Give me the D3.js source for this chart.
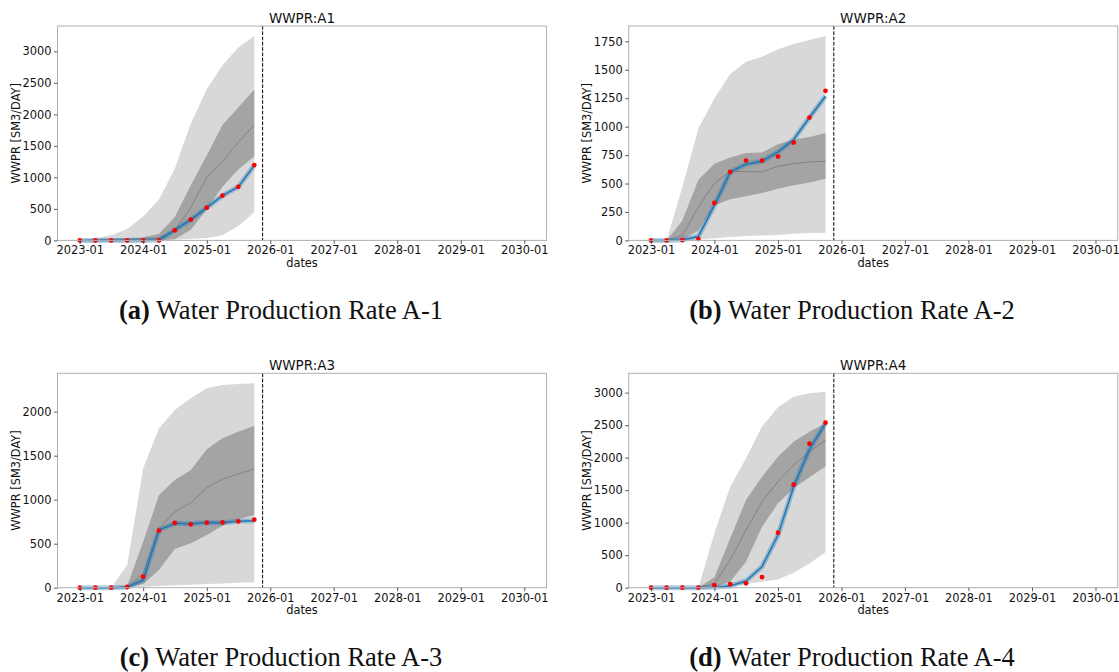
<!DOCTYPE html>
<html>
<head>
<meta charset="utf-8">
<script src="https://cdn.jsdelivr.net/npm/d3@7"></script>
<style>
  body { margin: 0; background: #fff; }
  svg { display: block; }
</style>
</head>
<body>
<div id="chart"></div>
<script>
// quarterly report dates
var dates = ["2023-01-01", "2023-04-01", "2023-07-01", "2023-10-01",
             "2024-01-01", "2024-04-01", "2024-07-01", "2024-10-01",
             "2025-01-01", "2025-04-01", "2025-07-01", "2025-10-01"];
var xRange = ["2023-01-01", "2030-01-01"];
var historyEnd = "2025-11-18";
var yearTicks = ["2023-01-01", "2024-01-01", "2025-01-01", "2026-01-01",
                 "2027-01-01", "2028-01-01", "2029-01-01", "2030-01-01"];

// A1
var a1Obs  = [0, 0, 0, 0, 0, 0, 160, 330, 520, 710, 850, 1195];
var a1Sim  = [0, 0, 0, 0, 0, 5, 165, 330, 520, 710, 850, 1190];
var a1Hi90 = [0, 40, 80, 180, 380, 650, 1140, 1855, 2400, 2780, 3060, 3245];
var a1Lo90 = [0, 0, 0, 0, 0, 0, 10, 25, 40, 80, 230, 445];
var a1Hi50 = [0, 20, 30, 40, 50, 105, 370, 875, 1350, 1830, 2110, 2395];
var a1Lo50 = [0, 0, 0, 0, 0, 0, 20, 170, 500, 850, 1125, 1335];
var a1Med  = [0, 5, 10, 15, 20, 40, 160, 520, 1000, 1250, 1560, 1830];

// A2
var a2Obs  = [0, 0, 3, 12, 329, 602, 702, 702, 737, 860, 1080, 1315];
var a2Sim  = [0, 0, 3, 35, 308, 602, 670, 696, 778, 887, 1080, 1268];
var a2Hi90 = [0, 0, 470, 984, 1248, 1462, 1571, 1615, 1680, 1726, 1762, 1797];
var a2Lo90 = [0, 0, 0, 9, 20, 29, 38, 44, 47, 59, 65, 68];
var a2Hi50 = [0, 0, 176, 534, 675, 728, 769, 772, 846, 887, 910, 945];
var a2Lo50 = [0, 0, 5, 88, 308, 361, 388, 417, 455, 484, 508, 543];
var a2Med  = [0, 0, 44, 294, 500, 608, 605, 602, 652, 675, 690, 696];

// A3
var a3Obs  = [0, 0, 0, 8, 125, 648, 735, 720, 739, 742, 754, 773];
var a3Sim  = [0, 0, 0, 4, 87, 655, 731, 727, 742, 739, 754, 761];
var a3Hi90 = [0, 0, 0, 258, 1356, 1811, 2019, 2152, 2265, 2303, 2314, 2322];
var a3Lo90 = [0, 0, 0, 0, 8, 19, 27, 34, 42, 49, 57, 61];
var a3Hi50 = [0, 0, 0, 19, 523, 1053, 1223, 1337, 1572, 1697, 1773, 1841];
var a3Lo50 = [0, 0, 0, 0, 42, 200, 439, 504, 598, 705, 777, 826];
var a3Med  = [0, 0, 0, 0, 163, 674, 864, 966, 1136, 1235, 1292, 1348];

// A4
var a4Obs  = [0, 0, 0, 0, 41, 56, 67, 164, 846, 1585, 2215, 2538];
var a4Sim  = [0, 0, 0, 0, 5, 26, 103, 323, 810, 1554, 2128, 2528];
var a4Hi90 = [0, 0, 0, 0, 836, 1554, 1990, 2477, 2774, 2938, 2990, 3015];
var a4Lo90 = [0, 0, 0, 0, 0, 26, 56, 92, 128, 231, 374, 544];
var a4Hi50 = [0, 0, 0, 0, 159, 759, 1349, 1708, 2015, 2246, 2400, 2528];
var a4Lo50 = [0, 0, 0, 0, 5, 92, 400, 938, 1297, 1528, 1697, 1862];
var a4Med  = [0, 0, 0, 0, 67, 426, 887, 1323, 1631, 1887, 2092, 2262];

var titles = ["WWPR:A1", "WWPR:A2", "WWPR:A3", "WWPR:A4"];
var captionTags = ["(a)", "(b)", "(c)", "(d)"];
var captionTexts = ["Water Production Rate A-1", "Water Production Rate A-2",
                    "Water Production Rate A-3", "Water Production Rate A-4"];
var yMaxes = [3402, 1885, 2436, 3297];
var yStepTicks = [
  [0, 500, 1000, 1500, 2000, 2500, 3000],
  [0, 250, 500, 750, 1000, 1250, 1500, 1750],
  [0, 500, 1000, 1500, 2000],
  [0, 500, 1000, 1500, 2000, 2500, 3000]
];

var wells = [
  { obs: a1Obs, sim: a1Sim, hi90: a1Hi90, lo90: a1Lo90, hi50: a1Hi50, lo50: a1Lo50, med: a1Med },
  { obs: a2Obs, sim: a2Sim, hi90: a2Hi90, lo90: a2Lo90, hi50: a2Hi50, lo50: a2Lo50, med: a2Med },
  { obs: a3Obs, sim: a3Sim, hi90: a3Hi90, lo90: a3Lo90, hi50: a3Hi50, lo50: a3Lo50, med: a3Med },
  { obs: a4Obs, sim: a4Sim, hi90: a4Hi90, lo90: a4Lo90, hi50: a4Hi50, lo50: a4Lo50, med: a4Med }
];

var width = 1119, height = 672;
var axW = 489, axH = 214.4;
var slots = [
  { left: 57.5, top: 26, capX: 281, capY: 319 },
  { left: 628.7, top: 26, capX: 852, capY: 319 },
  { left: 57.5, top: 373.3, capX: 281, capY: 666 },
  { left: 628.7, top: 373.3, capX: 852, capY: 666 }
];

var parse = d3.utcParse("%Y-%m-%d");
var fmt = d3.utcFormat("%Y-%m");
var tickFont = "'DejaVu Sans', sans-serif";

var svg = d3.select("#chart").append("svg")
    .attr("width", width)
    .attr("height", height);

// x domain with matplotlib-like 5% margin
var x0 = parse(xRange[0]).getTime(), x1 = parse(xRange[1]).getTime();
var pad = (x1 - x0) * 0.05;

wells.forEach(function (w, i) {
    var s = slots[i];
    var g = svg.append("g").attr("transform", "translate(" + s.left + "," + s.top + ")");

    var x = d3.scaleUtc()
        .domain([new Date(x0 - pad), new Date(x1 + pad)])
        .range([0, axW]);
    var y = d3.scaleLinear()
        .domain([0, yMaxes[i]])
        .range([axH, 0]);

    var rows = dates.map(function (d, k) {
        return { date: parse(d), obs: w.obs[k], sim: w.sim[k], hi90: w.hi90[k], lo90: w.lo90[k],
                 hi50: w.hi50[k], lo50: w.lo50[k], med: w.med[k] };
    });

    var band = function (lo, hi) {
        return d3.area()
            .x(function (d) { return x(d.date); })
            .y0(function (d) { return y(d[lo]); })
            .y1(function (d) { return y(d[hi]); });
    };
    var line = function (key) {
        return d3.line()
            .x(function (d) { return x(d.date); })
            .y(function (d) { return y(d[key]); });
    };

    g.append("path").datum(rows).attr("d", band("lo90", "hi90")).attr("fill", "#d8d8d8");
    g.append("path").datum(rows).attr("d", band("lo50", "hi50")).attr("fill", "#a4a4a4");
    g.append("path").datum(rows).attr("d", line("med"))
        .attr("fill", "none").attr("stroke", "#7a7a7a").attr("stroke-width", 0.8);

    // simulated (history-matched) line with its light halo
    g.append("path").datum(rows).attr("d", line("sim"))
        .attr("fill", "none").attr("stroke", "#1f77b4").attr("stroke-opacity", 0.35)
        .attr("stroke-width", 5).attr("stroke-linejoin", "round");
    g.append("path").datum(rows).attr("d", line("sim"))
        .attr("fill", "none").attr("stroke", "#1f77b4").attr("stroke-width", 1.5)
        .attr("stroke-linejoin", "round");

    g.selectAll("circle.obs").data(rows).enter().append("circle")
        .attr("class", "obs")
        .attr("cx", function (d) { return x(d.date); })
        .attr("cy", function (d) { return y(d.obs); })
        .attr("r", 2.4)
        .attr("fill", "red");

    // history end marker
    g.append("line")
        .attr("x1", x(parse(historyEnd))).attr("x2", x(parse(historyEnd)))
        .attr("y1", 0).attr("y2", axH)
        .attr("stroke", "#000").attr("stroke-width", 1)
        .attr("stroke-dasharray", "3.7,1.6");

    // frame
    g.append("rect")
        .attr("width", axW).attr("height", axH)
        .attr("fill", "none").attr("stroke", "#b0b0b0").attr("stroke-width", 1);

    var xAxis = g.append("g").attr("transform", "translate(0," + axH + ")")
        .call(d3.axisBottom(x).tickValues(yearTicks.map(parse)).tickFormat(fmt)
              .tickSize(3.5).tickPadding(2.5));
    var yAxis = g.append("g")
        .call(d3.axisLeft(y).tickValues(yStepTicks[i]).tickFormat(d3.format("d"))
              .tickSize(3.5).tickPadding(2.5));
    [xAxis, yAxis].forEach(function (ax) {
        ax.select(".domain").remove();
        ax.selectAll(".tick line").attr("stroke", "#333").attr("stroke-width", 0.8);
        ax.selectAll(".tick text")
            .attr("font-family", tickFont).attr("font-size", "11.4px").attr("fill", "#111");
    });

    g.append("text")
        .attr("x", axW / 2).attr("y", -3.5)
        .attr("text-anchor", "middle")
        .attr("font-family", tickFont).attr("font-size", "13.5px").attr("fill", "#111")
        .text(titles[i]);
    g.append("text")
        .attr("x", axW / 2).attr("y", axH + 26.5)
        .attr("text-anchor", "middle")
        .attr("font-family", tickFont).attr("font-size", "11.4px").attr("fill", "#111")
        .text("dates");
    g.append("text")
        .attr("transform", "translate(-37.5," + (axH / 2) + ") rotate(-90)")
        .attr("text-anchor", "middle")
        .attr("font-family", tickFont).attr("font-size", "11.4px").attr("fill", "#111")
        .text("WWPR [SM3/DAY]");

    // caption
    var cap = svg.append("text")
        .attr("x", s.capX).attr("y", s.capY)
        .attr("text-anchor", "middle")
        .attr("font-family", "'Liberation Serif', 'DejaVu Serif', serif")
        .attr("font-size", "26.5px").attr("fill", "#111");
    cap.append("tspan").attr("font-weight", "bold").text(captionTags[i]);
    cap.append("tspan").text(" " + captionTexts[i]);
});
</script>
</body>
</html>
